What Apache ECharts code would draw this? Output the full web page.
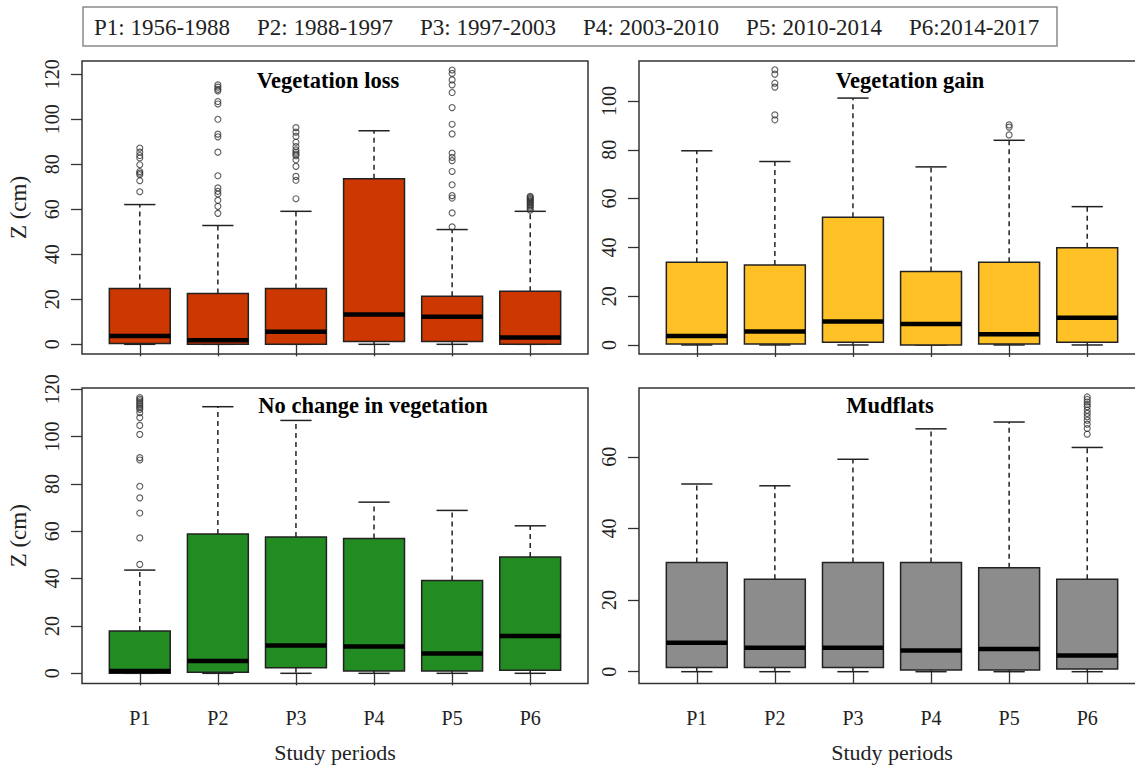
<!DOCTYPE html>
<html>
<head>
<meta charset="utf-8">
<script src="https://cdn.jsdelivr.net/npm/echarts@6/dist/echarts.min.js"></script>
<style>
  html, body { margin: 0; padding: 0; background: #ffffff; }
  #chart { width: 1135px; height: 768px; }
</style>
</head>
<body>
<div id="chart"></div>
<script>
// Study periods and legend text
const periods = ['P1', 'P2', 'P3', 'P4', 'P5', 'P6'];
const periodLegend = ['P1: 1956-1988', 'P2: 1988-1997', 'P3: 1997-2003', 'P4: 2003-2010', 'P5: 2010-2014', 'P6:2014-2017'];

// Vegetation loss: whisker ends, quartiles, median (cm)
const lossLow  = [0, 0, 0, 0, 0, 0];
const lossQ1   = [0.4, 0, 0, 1.2, 1.2, 0];
const lossMed  = [3.7, 1.8, 5.6, 13.3, 12.3, 3.0];
const lossQ3   = [24.8, 22.6, 24.8, 73.6, 21.4, 23.6];
const lossHigh = [62.1, 52.8, 59.1, 94.9, 51.0, 59.1];
const lossOut  = [
  [87.2, 85.4, 83.9, 82.8, 79.8, 76.8, 76.1, 75.4, 72.7, 67.8],
  [115.3, 114.3, 113.3, 112.6, 107.9, 106.8, 100.0, 93.4, 92.2, 85.4, 74.9, 69.5, 68.0, 66.8, 64.0, 61.3, 58.2],
  [96.3, 94.3, 92.4, 89.8, 87.9, 86.4, 85.4, 84.5, 83.8, 82.0, 79.1, 74.6, 72.9, 64.7],
  [],
  [121.9, 120.4, 117.5, 115.3, 111.9, 105.2, 97.8, 93.5, 85.0, 83.1, 81.6, 76.8, 70.9, 66.1, 65.0, 58.4, 52.2],
  [65.8, 65.3, 64.8, 64.3, 63.8, 63.3, 62.8, 62.2, 61.6, 61.0, 60.3, 59.6]
];

// Vegetation gain
const gainLow  = [0, 0, 0, 0, 0, 0];
const gainQ1   = [0.4, 0.4, 1.1, 0, 0.4, 1.1];
const gainMed  = [3.7, 5.5, 9.6, 8.6, 4.4, 11.2];
const gainQ3   = [33.9, 32.8, 52.4, 30.1, 33.9, 39.9];
const gainHigh = [79.6, 75.2, 101.2, 73.0, 83.9, 56.7];
const gainOut  = [
  [],
  [112.8, 111.0, 107.3, 105.7, 94.3, 92.3],
  [],
  [],
  [90.2, 89.3, 86.1],
  []
];

// No change in vegetation
const sameLow  = [0, 0, 0, 0, 0, 0];
const sameQ1   = [0, 0.5, 2.3, 1.0, 1.0, 1.3];
const sameMed  = [1.0, 5.2, 11.8, 11.3, 8.4, 15.8];
const sameQ3   = [17.9, 58.8, 57.6, 56.9, 39.2, 49.1];
const sameHigh = [43.6, 112.6, 106.8, 72.3, 68.8, 62.3];
const sameOut  = [
  [116.5, 115.8, 115.1, 114.3, 113.6, 112.9, 112.2, 111.5, 110.1, 108.0, 104.7, 100.9, 91.1, 90.1, 79.0, 74.1, 67.7, 57.2, 46.0],
  [], [], [], [], []
];

// Mudflats
const mudLow  = [0, 0, 0, 0, 0, 0];
const mudQ1   = [1.2, 1.2, 1.2, 0.5, 0.5, 0.75];
const mudMed  = [8.1, 6.7, 6.7, 5.9, 6.3, 4.5];
const mudQ3   = [30.5, 25.8, 30.5, 30.5, 29.0, 25.8];
const mudHigh = [52.4, 51.9, 59.3, 67.8, 69.7, 62.6];
const mudOut  = [
  [], [], [], [], [],
  [76.7, 76.0, 75.3, 74.6, 74.0, 73.0, 72.1, 71.2, 70.2, 69.1, 67.9, 66.3]
];

const yTicksLoss = [0, 20, 40, 60, 80, 100, 120];
const yTicksGain = [0, 20, 40, 60, 80, 100];
const yTicksSame = [0, 20, 40, 60, 80, 100, 120];
const yTicksMud  = [0, 20, 40, 60];
const xTicks = [1, 2, 3, 4, 5, 6];

const SERIF = 'Liberation Serif, Times New Roman, serif';
const INK = '#222222';

const panels = [
  { title: 'Vegetation loss', fill: '#CD3700', low: lossLow, q1: lossQ1, med: lossMed, q3: lossQ3, high: lossHigh, out: lossOut,
    ticks: yTicksLoss, yMin: -4.3, yMax: 125.9, grid: { left: 82, top: 61, width: 506, height: 293 },
    titleX: 328, titleY: 80, left: true, bottom: false },
  { title: 'Vegetation gain', fill: '#FFC125', low: gainLow, q1: gainQ1, med: gainMed, q3: gainQ3, high: gainHigh, out: gainOut,
    ticks: yTicksGain, yMin: -3.7, yMax: 116.4, grid: { left: 639, top: 61, width: 506, height: 293 },
    titleX: 910, titleY: 80, left: false, bottom: false },
  { title: 'No change in vegetation', fill: '#228B22', low: sameLow, q1: sameQ1, med: sameMed, q3: sameQ3, high: sameHigh, out: sameOut,
    ticks: yTicksSame, yMin: -4.3, yMax: 120.5, grid: { left: 82, top: 388, width: 506, height: 295.5 },
    titleX: 373, titleY: 405, left: true, bottom: true },
  { title: 'Mudflats', fill: '#8C8C8C', low: mudLow, q1: mudQ1, med: mudMed, q3: mudQ3, high: mudHigh, out: mudOut,
    ticks: yTicksMud, yMin: -3.3, yMax: 79.2, grid: { left: 639, top: 388, width: 506, height: 295.5 },
    titleX: 890, titleY: 405, left: false, bottom: true }
];

// One box-and-whisker glyph per period: dashed whiskers, solid staples, filled box, heavy median
function boxRenderer(fill) {
  return function (params, api) {
    const x = api.value(0);
    const lo = api.value(1), q1 = api.value(2), md = api.value(3), q3 = api.value(4), hi = api.value(5);
    const half = 0.39, staple = 0.2;
    const a = api.coord([x - half, q3]);
    const b = api.coord([x + half, q1]);
    const pHi = api.coord([x, hi]), pQ3 = api.coord([x, q3]);
    const pQ1 = api.coord([x, q1]), pLo = api.coord([x, lo]);
    const sL = api.coord([x - staple, 0])[0], sR = api.coord([x + staple, 0])[0];
    const mL = api.coord([x - half, md]), mR = api.coord([x + half, md]);
    const dashed = { stroke: INK, lineWidth: 1.5, lineDash: [5, 4] };
    const solid = { stroke: INK, lineWidth: 1.5 };
    return {
      type: 'group',
      children: [
        { type: 'line', shape: { x1: pQ3[0], y1: pQ3[1], x2: pHi[0], y2: pHi[1] }, style: dashed },
        { type: 'line', shape: { x1: pQ1[0], y1: pQ1[1], x2: pLo[0], y2: pLo[1] }, style: dashed },
        { type: 'line', shape: { x1: sL, y1: pHi[1], x2: sR, y2: pHi[1] }, style: solid },
        { type: 'line', shape: { x1: sL, y1: pLo[1], x2: sR, y2: pLo[1] }, style: solid },
        { type: 'rect', shape: { x: a[0], y: a[1], width: b[0] - a[0], height: b[1] - a[1] },
          style: { fill: fill, stroke: INK, lineWidth: 1.5 } },
        { type: 'line', shape: { x1: mL[0], y1: mL[1], x2: mR[0], y2: mR[1] }, style: { stroke: '#000', lineWidth: 4.5 } }
      ]
    };
  };
}

const grids = [], xAxes = [], yAxes = [], series = [], graphics = [];

panels.forEach(function (p, i) {
  grids.push(Object.assign({
    show: true, borderColor: '#333333', borderWidth: 1.5, backgroundColor: 'transparent',
    outerBoundsMode: 'none', containLabel: false
  }, p.grid));

  xAxes.push({
    type: 'value', gridIndex: i, min: 0.26, max: 6.74,
    axisLine: { show: false }, splitLine: { show: false },
    axisTick: { show: true, length: 12, customValues: xTicks, lineStyle: { color: '#333333', width: 1.3 } },
    axisLabel: { show: p.bottom, customValues: xTicks, margin: 24,
      formatter: function (v) { return periods[Math.round(v) - 1]; },
      fontFamily: SERIF, fontSize: 20, color: INK },
    name: p.bottom ? 'Study periods' : '', nameLocation: 'middle', nameGap: 58,
    nameTextStyle: { fontFamily: SERIF, fontSize: 22, fontWeight: 'normal', color: INK }
  });

  yAxes.push({
    type: 'value', gridIndex: i, min: p.yMin, max: p.yMax,
    axisLine: { show: false }, splitLine: { show: false },
    axisTick: { show: true, length: 11, customValues: p.ticks, lineStyle: { color: '#333333', width: 1.3 } },
    axisLabel: { customValues: p.ticks, rotate: 90, margin: 20, fontFamily: SERIF, fontSize: 20, color: INK },
    name: p.left ? 'Z (cm)' : '', nameLocation: 'middle', nameGap: 52, nameRotate: 90,
    nameTextStyle: { fontFamily: SERIF, fontSize: 23, fontWeight: 'normal', color: INK }
  });

  const boxData = periods.map(function (_, k) {
    return [k + 1, p.low[k], p.q1[k], p.med[k], p.q3[k], p.high[k]];
  });
  series.push({
    type: 'custom', xAxisIndex: i, yAxisIndex: i,
    renderItem: boxRenderer(p.fill),
    encode: { x: 0, y: [1, 2, 3, 4, 5] },
    data: boxData, silent: true, clip: false
  });

  const outData = [];
  p.out.forEach(function (vals, k) {
    vals.forEach(function (v) { outData.push([k + 1, v]); });
  });
  series.push({
    type: 'scatter', xAxisIndex: i, yAxisIndex: i,
    symbol: 'circle', symbolSize: 6,
    itemStyle: { color: 'rgba(0,0,0,0)', borderColor: '#333333', borderWidth: 1.1 },
    data: outData, silent: true
  });

  graphics.push({
    type: 'text', x: p.titleX, y: p.titleY,
    style: { text: p.title, fontFamily: SERIF, fontSize: 22.5, fontWeight: 'bold', fill: '#000',
      align: 'center', verticalAlign: 'middle' }
  });
});

// Period legend across the top
graphics.push({
  type: 'rect', shape: { x: 83, y: 7, width: 974, height: 39 },
  style: { fill: 'none', stroke: '#8a8a8a', lineWidth: 1.5 }
});
periodLegend.forEach(function (t, k) {
  graphics.push({
    type: 'text', x: 94 + k * 163, y: 27,
    style: { text: t, fontFamily: SERIF, fontSize: 23, fill: INK, align: 'left', verticalAlign: 'middle' }
  });
});

const chart = echarts.init(document.getElementById('chart'), null, { renderer: 'svg' });
chart.setOption({
  animation: false,
  backgroundColor: '#ffffff',
  grid: grids,
  xAxis: xAxes,
  yAxis: yAxes,
  series: series,
  graphic: graphics
});
</script>
</body>
</html>
